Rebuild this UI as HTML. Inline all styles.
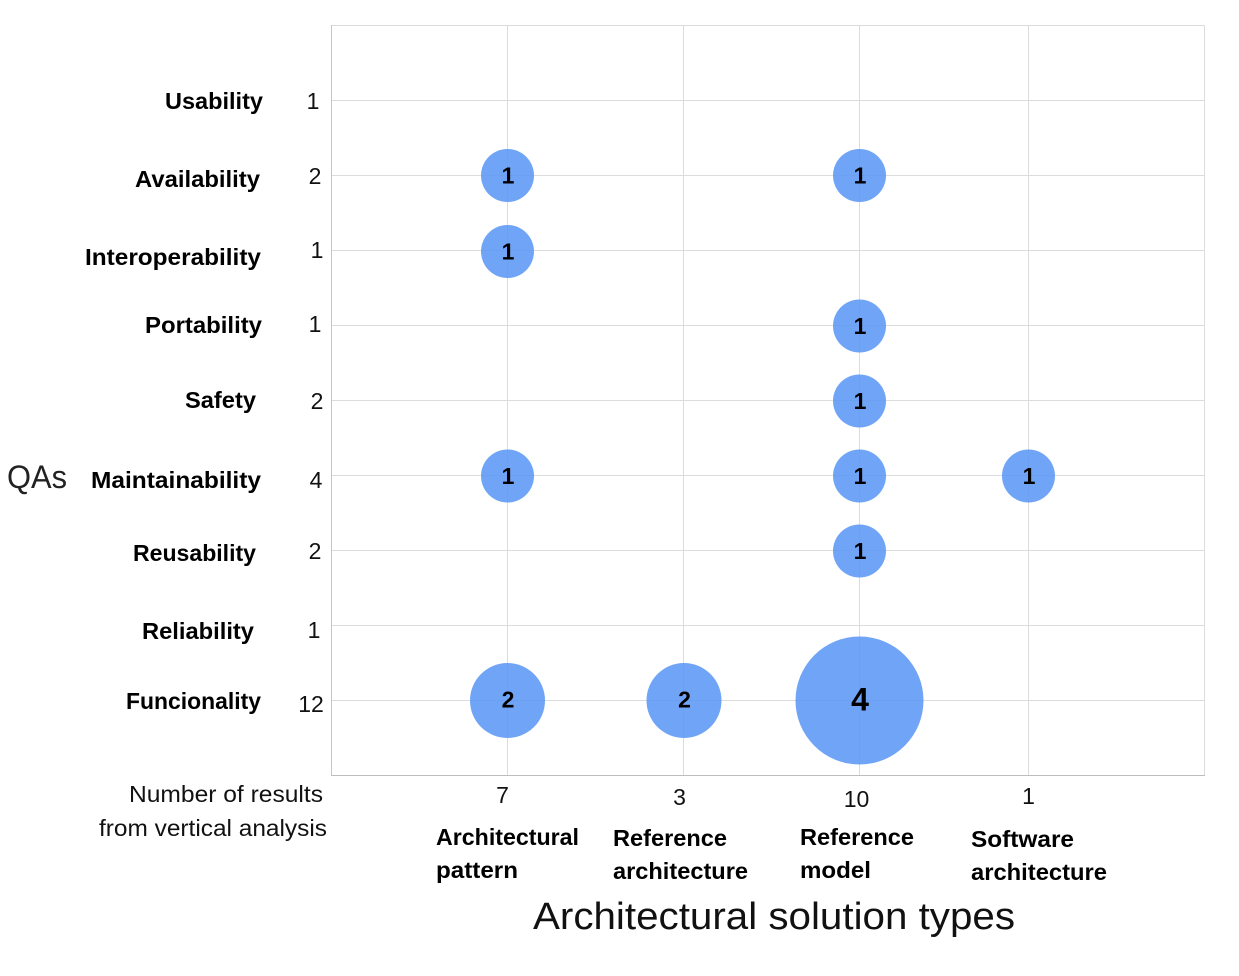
<!DOCTYPE html>
<html lang="en">
<head>
<meta charset="utf-8">
<title>QAs by architectural solution types</title>
<style>
html,body{margin:0;padding:0;background:#fff;width:1239px;height:976px;overflow:hidden}
svg{display:block}
text{fill:#000;font-family:"Liberation Sans",Arial,sans-serif}
.qa,.col{font-weight:bold;font-size:23px}
.tot{font-size:23px;fill:#111}
.note{font-size:23px;fill:#111}
</style>
</head>
<body>
<svg id="chart" width="1239" height="976" viewBox="0 0 1239 976" xmlns="http://www.w3.org/2000/svg">
  <rect x="331.5" y="25.5" width="873" height="750" fill="#fff" stroke="#dcdcdc"/>
  <g id="grid"></g>
  <line x1="331.5" y1="25" x2="331.5" y2="776" stroke="#c6c6c6"/>
  <line x1="331" y1="775.5" x2="1205" y2="775.5" stroke="#bdbdbd"/>
  <g id="bubbles"></g>
  <g id="labels"></g>
  <text x="7" y="488" font-size="32" textLength="60" lengthAdjust="spacingAndGlyphs" style="fill:#222">QAs</text>
  <text x="533" y="929" font-size="38" textLength="482" lengthAdjust="spacingAndGlyphs" style="fill:#111">Architectural solution types</text>
  <text class="note" x="129" y="802" textLength="194" lengthAdjust="spacingAndGlyphs">Number of results</text>
  <text class="note" x="99" y="836" textLength="228" lengthAdjust="spacingAndGlyphs">from vertical analysis</text>
</svg>
<script>
const qualityAttributes = ["Usability","Availability","Interoperability","Portability","Safety","Maintainability","Reusability","Reliability","Funcionality"];
const qaTotals = [1,2,1,1,2,4,2,1,12];
const solutionTypes = [["Architectural","pattern"],["Reference","architecture"],["Reference","model"],["Software","architecture"]];
const typeTotals = [7,3,10,1];
const architecturalPattern = [0,1,1,0,0,1,0,0,2];
const referenceArchitecture = [0,0,0,0,0,0,0,0,2];
const referenceModel = [0,1,0,1,1,1,1,0,4];
const softwareArchitecture = [0,0,0,0,0,1,0,0,0];
const seriesList = [architecturalPattern,referenceArchitecture,referenceModel,softwareArchitecture];

const NS = "http://www.w3.org/2000/svg";
function make(parent, tag, attrs, txt){
  const el = document.createElementNS(NS, tag);
  for (const k in attrs) el.setAttribute(k, attrs[k]);
  if (txt !== undefined) el.textContent = txt;
  parent.appendChild(el);
  return el;
}
function yScale(i){ return 100.5 + 75 * i; }
function xScale(i){ return i < 3 ? 507.5 + 176 * i : 507.5 + 176 * 3 - 7; }
function rScale(v){
  if (v <= 2) return 26.5 + (v - 1) * 11;
  return 37.5 + (v - 2) * 13.25;
}
function draw(){
  const grid = document.getElementById("grid");
  const bubbles = document.getElementById("bubbles");
  const labels = document.getElementById("labels");

  qualityAttributes.forEach(function(q, i){
    const ln = make(grid, "line", {x1:332, x2:1204, y1:yScale(i), y2:yScale(i), stroke:"#dcdcdc"});
    
    
  });
  solutionTypes.forEach(function(t, i){
    const ln = make(grid, "line", {x1:xScale(i), x2:xScale(i), y1:26, y2:775, stroke:"#dcdcdc"});
    
    
  });

  /* small hand-placement offsets seen in the reference, relative to each row */
  const qaRight = [263,260,261,262,256,261,256,254,261];
  const qaDy = [9,12,15,8,8,13,11,14,9];
  const qaStretch = [98,125,176,117,71,170,123,112,135];
  const totX = [313,315,317,315,317,316,315,314,311];
  const totDy = [9,9,8,7,9,13,9,13,12];
  qualityAttributes.forEach(function(q, i){
    const t = make(labels, "text", {"class":"qa", x:qaRight[i], y:yScale(i)+qaDy[i]-0.5, "text-anchor":"end", textLength:qaStretch[i], lengthAdjust:"spacingAndGlyphs"}, q);
    
    
    const n = make(labels, "text", {"class":"tot", x:totX[i], y:yScale(i)+totDy[i]-0.5, "text-anchor":"middle"}, qaTotals[i]);
    
    
  });

  const totDx = [-5,-4,-3,0];
  const totY = [803,805,807,804];
  const colX = [436,613,800,971];
  const colY = [845,846,845,847];
  const colStretch = [[143,82],[114,135],[114,71],[103,136]];
  solutionTypes.forEach(function(lines, i){
    const n = make(labels, "text", {"class":"tot", x:xScale(i)+totDx[i], y:totY[i], "text-anchor":"middle"}, typeTotals[i]);
    
    
    lines.forEach(function(line, k){
      const t = make(labels, "text", {"class":"col", x:colX[i], y:colY[i]+33*k, textLength:colStretch[i][k], lengthAdjust:"spacingAndGlyphs"}, line);
      
      
    });
  });

  const bubbleDy = [0,0,1,0.5,0.5,0.5,0.5,0,0];
  seriesList.forEach(function(series, c){
    series.forEach(function(v, r){
      if (!v) return;
      const cx = xScale(c) + (c === 1 ? 0.5 : 0), cy = yScale(r) + bubbleDy[r];
      const b = make(bubbles, "circle", {cx:cx, cy:cy, r:rScale(v), fill:"#5b96f5", "fill-opacity":0.87});
      
      
      const big = v >= 4;
      const lab = make(bubbles, "text", {x:cx+0.5, y:cy+(big?10:(v === 2 ? 7 : 8)), "text-anchor":"middle", "font-weight":"bold", "font-size":big?32:23}, v);
      
      
    });
  });
}
draw();
</script>
</body>
</html>
